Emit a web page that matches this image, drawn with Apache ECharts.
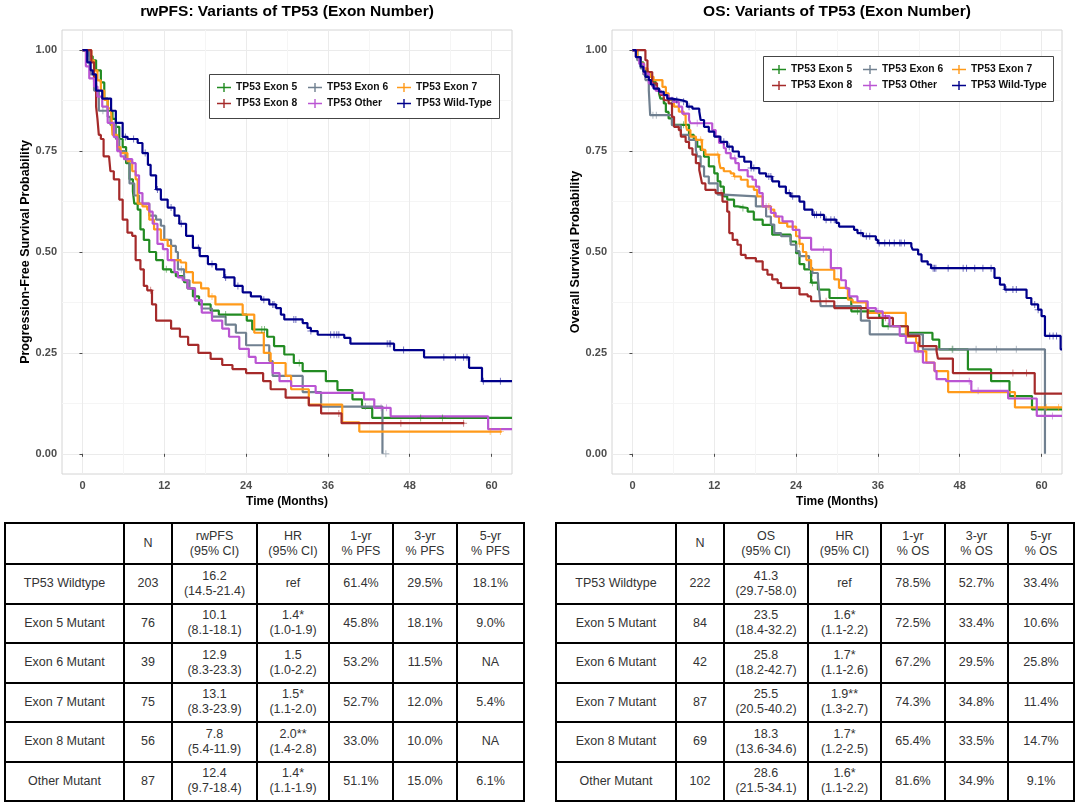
<!DOCTYPE html>
<html><head><meta charset="utf-8">
<script src="https://cdn.jsdelivr.net/npm/echarts@6/dist/echarts.min.js"></script>
<style>
body{margin:0;background:#fff;width:1080px;height:804px;overflow:hidden;}
#chart{position:absolute;left:0;top:0;width:1080px;height:520px;}
table.km{position:absolute;border-collapse:collapse;table-layout:fixed;font-family:"Liberation Sans",Arial,sans-serif;font-size:12.5px;color:#333;}
table.km td{border:2px solid #000;text-align:center;vertical-align:middle;line-height:15px;padding:0;}
</style></head>
<body>
<div id="chart"></div>
<table class="km" id="tPFS" style="left:4px;top:522px;width:519px;"></table>
<table class="km" id="tOS" style="left:555px;top:522px;width:518px;"></table>
<script>
// ---------- curve data: [time (months), survival probability] ----------
const pfsExon5 = [[0,1],[1,0.985],[1.5,0.975],[2,0.95],[2.7,0.92],[3.2,0.88],[3.7,0.85],[4.4,0.83],[4.9,0.81],[5.4,0.78],[5.9,0.76],[6.4,0.72],[6.9,0.68],[7.4,0.65],[7.6,0.62],[8.1,0.605],[8.5,0.556],[9,0.53],[9.8,0.5],[10.8,0.48],[11.8,0.457],[13,0.45],[13.7,0.44],[14.9,0.425],[15.4,0.41],[16.2,0.39],[17.1,0.37],[18.8,0.355],[20,0.345],[24.1,0.33],[24.9,0.308],[27.1,0.29],[28.1,0.267],[29.6,0.246],[31,0.225],[32.3,0.205],[35.7,0.18],[37.4,0.158],[39.6,0.135],[41,0.114],[42.5,0.089],[63,0.089]];
const pfsExon6 = [[0,1],[1,0.975],[1.2,0.94],[1.7,0.9],[2.4,0.85],[3.7,0.835],[4.1,0.815],[4.9,0.78],[5.4,0.75],[6.3,0.73],[6.9,0.67],[7.6,0.64],[8.3,0.62],[9.8,0.59],[10.8,0.58],[11.5,0.565],[12,0.53],[13,0.515],[13.7,0.5],[14,0.457],[14.9,0.43],[15.7,0.41],[16.5,0.38],[17.5,0.36],[19,0.34],[21,0.32],[22.5,0.3],[24,0.269],[27.4,0.23],[27.9,0.193],[32.3,0.153],[35,0.117],[44,0]];
const pfsExon7 = [[0,1],[1.3,0.975],[1.7,0.95],[2.2,0.925],[2.7,0.9],[3.2,0.877],[3.7,0.856],[4.2,0.848],[4.4,0.79],[5.1,0.76],[5.6,0.745],[6.6,0.725],[7.3,0.7],[7.8,0.68],[8.1,0.62],[8.8,0.613],[9.5,0.605],[9.8,0.58],[10.5,0.556],[11.5,0.53],[12.5,0.515],[13,0.48],[14.4,0.474],[15.2,0.45],[16.2,0.424],[17.4,0.41],[18.5,0.39],[19.5,0.37],[23.5,0.345],[25.2,0.3],[26.6,0.25],[27.6,0.225],[29.8,0.193],[30.6,0.16],[33.2,0.122],[38.1,0.078],[40.6,0.055],[61.5,0.055]];
const pfsExon8 = [[0,1],[1.3,0.97],[1.7,0.92],[2,0.86],[2.2,0.83],[2.4,0.79],[2.7,0.78],[3.1,0.737],[3.9,0.733],[4.1,0.7],[4.6,0.68],[5.4,0.63],[5.9,0.58],[6.6,0.548],[7.3,0.54],[7.8,0.48],[8.5,0.457],[9,0.416],[9.5,0.405],[10.2,0.37],[10.8,0.33],[13,0.31],[14.3,0.29],[15.5,0.27],[17,0.25],[18.8,0.235],[20.5,0.22],[22,0.21],[24,0.2],[26.5,0.18],[27.6,0.16],[29.8,0.139],[33.2,0.12],[35,0.1],[38,0.076],[56,0.076]];
const pfsOther = [[0,1],[0.5,0.96],[1,0.93],[1.7,0.91],[2.2,0.885],[2.9,0.86],[3.7,0.82],[4.6,0.785],[5.1,0.75],[5.6,0.737],[6.1,0.73],[7.3,0.72],[7.8,0.69],[8.3,0.646],[8.8,0.62],[9.8,0.6],[10.3,0.57],[11,0.52],[11.8,0.507],[12.5,0.48],[13.5,0.45],[14,0.437],[14.7,0.43],[15.4,0.41],[16.5,0.38],[17.5,0.35],[19,0.33],[20.5,0.31],[21.5,0.29],[23,0.26],[24.4,0.24],[25.4,0.225],[27.9,0.2],[28.9,0.18],[30.6,0.168],[34.2,0.151],[41.3,0.135],[42.8,0.114],[45.2,0.093],[59.5,0.061],[63,0.061]];
const pfsWildType = [[0,1],[0.7,0.97],[1.2,0.95],[1.5,0.94],[2,0.9],[2.9,0.88],[4.2,0.85],[4.9,0.82],[5.9,0.785],[6.6,0.78],[8.1,0.77],[8.8,0.745],[9.6,0.716],[10,0.69],[10.8,0.655],[11.5,0.63],[12.5,0.61],[13.5,0.59],[14.2,0.57],[15.2,0.54],[16.2,0.51],[17.2,0.49],[18.4,0.47],[19.6,0.457],[20.8,0.437],[22.3,0.416],[23.5,0.4],[24.7,0.39],[26.2,0.382],[27.4,0.37],[28.4,0.361],[29.1,0.345],[29.6,0.333],[32.3,0.324],[33,0.312],[33.5,0.304],[34.5,0.295],[38.4,0.287],[39.3,0.273],[45.7,0.257],[50.1,0.239],[56.7,0.213],[58.6,0.18],[63,0.18]];

const osExon5 = [[0,1],[0.7,0.983],[1.2,0.97],[1.6,0.95],[2.2,0.934],[2.9,0.922],[3.4,0.905],[3.9,0.893],[4.1,0.88],[4.6,0.868],[4.9,0.847],[5.3,0.831],[5.8,0.815],[8.3,0.79],[9,0.778],[9.5,0.761],[10,0.753],[10.5,0.736],[11.2,0.712],[12,0.695],[12.5,0.675],[12.9,0.662],[13.4,0.638],[13.9,0.63],[14.9,0.613],[15.4,0.609],[16.9,0.6],[17.8,0.58],[19.1,0.567],[20.5,0.543],[23.2,0.526],[24,0.497],[24.5,0.47],[25.2,0.457],[26.2,0.424],[27.2,0.407],[28.9,0.386],[32.1,0.353],[36.2,0.337],[36.7,0.316],[40.4,0.3],[44,0.283],[45,0.259],[49.2,0.209],[52.6,0.18],[55.3,0.143],[58.6,0.11],[63,0.11]];
const osExon6 = [[0,1],[0.7,0.975],[1.2,0.955],[1.6,0.94],[1.9,0.926],[2.4,0.9],[2.6,0.839],[5.8,0.814],[7.1,0.79],[8.3,0.778],[9.3,0.753],[9.5,0.737],[10,0.712],[10.5,0.687],[11.2,0.67],[12.5,0.642],[13.4,0.638],[18.1,0.613],[19.6,0.588],[20.3,0.568],[20.8,0.547],[21.8,0.539],[23.2,0.518],[24,0.502],[24.5,0.49],[25.9,0.46],[26.4,0.448],[27.2,0.436],[27.4,0.4],[27.6,0.366],[33.5,0.33],[34.8,0.296],[42.6,0.259],[60.5,0]];
const osExon7 = [[0,1],[0.7,0.983],[1.2,0.967],[1.7,0.955],[2.2,0.942],[2.6,0.934],[3.1,0.926],[4.4,0.909],[4.9,0.893],[5.3,0.876],[6.1,0.86],[6.8,0.848],[7.5,0.84],[7.8,0.819],[8,0.802],[8.5,0.786],[9.3,0.778],[10.2,0.753],[10.7,0.741],[12.7,0.724],[12.9,0.708],[13.4,0.7],[14.4,0.695],[14.9,0.687],[15.9,0.679],[16.9,0.662],[17.8,0.654],[18.3,0.638],[19.1,0.613],[20.3,0.605],[20.8,0.588],[21.5,0.572],[22.7,0.563],[24,0.539],[24.5,0.52],[25,0.5],[25.5,0.48],[26.2,0.456],[29.6,0.432],[30.3,0.411],[31.6,0.382],[32.3,0.375],[34.3,0.362],[34.6,0.349],[40.1,0.29],[41.6,0.275],[41.9,0.254],[43.1,0.226],[44.3,0.205],[46.3,0.153],[56.1,0.115],[63,0.115]];
const osExon8 = [[0,1],[1.9,0.975],[2.2,0.946],[2.9,0.918],[3.6,0.9],[4.1,0.889],[4.6,0.876],[5.3,0.868],[5.8,0.835],[6.1,0.81],[6.8,0.802],[7.1,0.786],[7.8,0.773],[8.3,0.757],[8.8,0.741],[9.3,0.72],[9.8,0.703],[10,0.687],[10.2,0.67],[10.7,0.654],[12.2,0.646],[13.2,0.625],[13.9,0.6],[14.2,0.547],[14.7,0.53],[15.4,0.518],[15.9,0.493],[16.6,0.485],[18.1,0.477],[19.1,0.456],[19.8,0.444],[20.5,0.432],[21.3,0.423],[21.8,0.411],[24.5,0.395],[25.7,0.39],[26.2,0.378],[29.6,0.361],[34.5,0.337],[38.2,0.316],[40.4,0.292],[42.1,0.267],[44.6,0.254],[44.8,0.236],[47,0.2],[59,0.149],[63,0.149]];
const osOther = [[0,1],[0.5,0.983],[1,0.966],[1.7,0.942],[2.4,0.918],[2.9,0.91],[3.4,0.9],[4.1,0.893],[4.6,0.888],[5.3,0.88],[6,0.872],[6.8,0.86],[7.3,0.843],[8.3,0.827],[8.5,0.819],[11.7,0.802],[12.2,0.786],[12.7,0.77],[13.4,0.757],[13.7,0.745],[14.4,0.732],[15.1,0.72],[15.6,0.703],[16.9,0.687],[17.6,0.679],[18.1,0.662],[18.6,0.646],[19.1,0.613],[20.3,0.597],[21,0.588],[22,0.576],[23.5,0.555],[24.5,0.535],[26.2,0.506],[29.1,0.46],[30.6,0.43],[31.3,0.41],[31.8,0.39],[33,0.378],[34.5,0.361],[35.7,0.353],[36.7,0.341],[37.7,0.316],[39.2,0.292],[40.1,0.275],[41.4,0.254],[42.6,0.226],[44.3,0.205],[44.6,0.185],[46,0.18],[49.7,0.156],[55.1,0.137],[59.3,0.094],[63,0.094]];
const osWildType = [[0,1],[0.5,0.983],[1.2,0.959],[1.6,0.947],[1.9,0.934],[2.4,0.926],[2.7,0.915],[3.1,0.905],[3.9,0.897],[4.6,0.889],[5.1,0.88],[5.8,0.876],[7.3,0.872],[8,0.86],[8.8,0.855],[9.8,0.848],[10,0.827],[10.5,0.81],[11.2,0.798],[12,0.786],[12.9,0.773],[13.9,0.761],[14.7,0.749],[15.6,0.736],[16.4,0.724],[17.4,0.708],[18.6,0.695],[19.6,0.687],[20.5,0.675],[21.5,0.662],[22.5,0.646],[23.2,0.638],[24.5,0.625],[25.2,0.605],[26.4,0.592],[28.1,0.58],[29.9,0.572],[30.3,0.563],[32.5,0.555],[33,0.547],[33.8,0.539],[35.7,0.53],[36,0.522],[40.9,0.514],[41.1,0.506],[41.9,0.494],[42.4,0.477],[43.3,0.469],[43.8,0.46],[53.1,0.436],[53.9,0.419],[54.6,0.407],[57.8,0.386],[58.5,0.37],[59.5,0.357],[60,0.341],[60.5,0.292],[62.8,0.259],[63,0.259]];

// ---------- censoring times (months) ----------
const pfsExon5Cens = [12.3,21,26.3,26.7,31.8,49.6,52.8];
const pfsExon6Cens = [3,14.5,41.5,44.5];
const pfsExon7Cens = [19,59.8,61.3];
const pfsExon8Cens = [10,37.6,46.7,55.9];
const pfsOtherCens = [6.5,43.8,44.6];
const pfsWildTypeCens = [6.3,7.5,9.2,11,13,14.5,17,19,21,22.8,26.6,27.9,28.1,31,31.3,33.5,36.4,36.9,37.3,37.6,44.7,45,45.2,47.1,53,54.7,55.9,56.4,58.8,61.3];
const osExon5Cens = [7.5,16.2,26.4,33,37.5,46.9];
const osExon6Cens = [3,3.5,26.4,47,50.4,53.4,56.3];
const osExon7Cens = [10,12.5,15,20,24.5,60.7,62.5];
const osExon8Cens = [13,28.4,37.1,55.8,57.8];
const osOtherCens = [9.5,15,19.6,28,36,49.4,50.7,61.6];
const osWildTypeCens = [5.8,6.5,7.5,8.3,13.4,14.2,17.4,17.8,20,20.3,23,23.5,26.7,27,27.6,28.4,29.1,29.6,33.5,34.3,34.8,36.2,37,37.7,38.4,39.2,39.4,39.9,44.1,44.3,44.5,46.3,48.5,49,50.2,51.4,52.6,54.8,55.8,56.3,59,59.5,61.2,61.7,62.2];

// ---------- axis ticks ----------
const timeTicks = [0,12,24,36,48,60];
const timeMinorTicks = [6,18,30,42,54];
const probTicks = [0,0.25,0.5,0.75,1];
const probMinorTicks = [0.125,0.375,0.625,0.875];

// ---------- legend / group names ----------
const groupNames = ['TP53 Exon 5','TP53 Exon 6','TP53 Exon 7','TP53 Exon 8','TP53 Other','TP53 Wild-Type'];

// ---------- table data ----------
const rowLabels = ['TP53 Wildtype','Exon 5 Mutant','Exon 6 Mutant','Exon 7 Mutant','Exon 8 Mutant','Other Mutant'];
const pfsHeaders = ['','N','rwPFS<br>(95% CI)','HR<br>(95% CI)','1-yr<br>% PFS','3-yr<br>% PFS','5-yr<br>% PFS'];
const pfsN = ['203','76','39','75','56','87'];
const pfsMedian = ['16.2','10.1','12.9','13.1','7.8','12.4'];
const pfsMedianCI = ['(14.5-21.4)','(8.1-18.1)','(8.3-23.3)','(8.3-23.9)','(5.4-11.9)','(9.7-18.4)'];
const pfsHR = ['ref','1.4*','1.5','1.5*','2.0**','1.4*'];
const pfsHRCI = ['','(1.0-1.9)','(1.0-2.2)','(1.1-2.0)','(1.4-2.8)','(1.1-1.9)'];
const pfs1yr = ['61.4%','45.8%','53.2%','52.7%','33.0%','51.1%'];
const pfs3yr = ['29.5%','18.1%','11.5%','12.0%','10.0%','15.0%'];
const pfs5yr = ['18.1%','9.0%','NA','5.4%','NA','6.1%'];
const osHeaders = ['','N','OS<br>(95% CI)','HR<br>(95% CI)','1-yr<br>% OS','3-yr<br>% OS','5-yr<br>% OS'];
const osN = ['222','84','42','87','69','102'];
const osMedian = ['41.3','23.5','25.8','25.5','18.3','28.6'];
const osMedianCI = ['(29.7-58.0)','(18.4-32.2)','(18.2-42.7)','(20.5-40.2)','(13.6-34.6)','(21.5-34.1)'];
const osHR = ['ref','1.6*','1.7*','1.9**','1.7*','1.6*'];
const osHRCI = ['','(1.1-2.2)','(1.1-2.6)','(1.3-2.7)','(1.2-2.5)','(1.1-2.2)'];
const os1yr = ['78.5%','72.5%','67.2%','74.3%','65.4%','81.6%'];
const os3yr = ['52.7%','33.4%','29.5%','34.8%','33.5%','34.9%'];
const os5yr = ['33.4%','10.6%','25.8%','11.4%','14.7%','9.1%'];

// ================= rendering =================
const FONT = '"Liberation Sans", Arial, Helvetica, sans-serif';
const colors = ['#228B22','#708090','#FF9A1A','#A52A2A','#BA55D3','#00008B'];
const plusPath = 'path://M4.3,0 L5.7,0 L5.7,10 L4.3,10 Z M0,4.3 L10,4.3 L10,5.7 L0,5.7 Z';
const legendPath = 'path://M0,4.3 L14,4.3 L14,5.7 L0,5.7 Z M6.3,0.5 L7.7,0.5 L7.7,9.5 L6.3,9.5 Z';

function survAt(curve, t){
  let s = curve[0][1];
  for (const p of curve){ if (p[0] <= t) s = p[1]; else break; }
  return s;
}

const pfsCurves = [pfsExon5,pfsExon6,pfsExon7,pfsExon8,pfsOther,pfsWildType];
const pfsCens = [pfsExon5Cens,pfsExon6Cens,pfsExon7Cens,pfsExon8Cens,pfsOtherCens,pfsWildTypeCens];
const osCurves = [osExon5,osExon6,osExon7,osExon8,osOther,osWildType];
const osCens = [osExon5Cens,osExon6Cens,osExon7Cens,osExon8Cens,osOtherCens,osWildTypeCens];

const grids = [
  {left:62, top:30, width:450, height:444, show:true, borderColor:'#D4D4D4', borderWidth:1, backgroundColor:'#fff'},
  {left:612, top:30, width:450, height:444, show:true, borderColor:'#D4D4D4', borderWidth:1, backgroundColor:'#fff'}
];

const labelStyle = {color:'#4D4D4D', fontSize:11, fontWeight:'bold', fontFamily:FONT};
const nameStyle = {color:'#000', fontSize:12, fontWeight:'bold', fontFamily:FONT};

function xMajor(g){
  return {type:'value', gridIndex:g, min:-3, max:63, position:'bottom',
    axisLine:{show:false},
    axisTick:{show:true, length:3, lineStyle:{color:'#4D4D4D'}, customValues:timeTicks},
    axisLabel:{...labelStyle, margin:6, customValues:timeTicks},
    splitLine:{show:true, lineStyle:{color:'#EBEBEB', width:1}},
    name:'Time (Months)', nameLocation:'middle', nameGap:19, nameTextStyle:nameStyle};
}
function xMinor(g){
  return {type:'value', gridIndex:g, min:-3, max:63, position:'top',
    axisLine:{show:false}, axisLabel:{show:false},
    axisTick:{show:false, customValues:timeMinorTicks},
    splitLine:{show:true, lineStyle:{color:'#F5F5F5', width:1}}};
}
function yMajor(g, name, gap){
  return {type:'value', gridIndex:g, min:-0.05, max:1.05, position:'left',
    axisLine:{show:false},
    axisTick:{show:true, length:3, lineStyle:{color:'#4D4D4D'}, customValues:probTicks},
    axisLabel:{...labelStyle, margin:5, customValues:probTicks, formatter:v => Number(v).toFixed(2)},
    splitLine:{show:true, lineStyle:{color:'#EBEBEB', width:1}},
    name:name, nameLocation:'middle', nameGap:gap, nameRotate:90,
    nameTextStyle:{...nameStyle, fontSize:12.5}};
}
function yMinor(g){
  return {type:'value', gridIndex:g, min:-0.05, max:1.05, position:'right',
    axisLine:{show:false}, axisLabel:{show:false},
    axisTick:{show:false, customValues:probMinorTicks},
    splitLine:{show:true, lineStyle:{color:'#F5F5F5', width:1}}};
}

const series = [];
function addPlot(curves, cens, axisIdx){
  curves.forEach((c, i) => {
    series.push({type:'line', name:groupNames[i], xAxisIndex:axisIdx, yAxisIndex:axisIdx,
      step:'end', data:c, showSymbol:false, symbol:'none', color:colors[i],
      lineStyle:{width:2.2, color:colors[i]}, z:2});
  });
  cens.forEach((ts, i) => {
    series.push({type:'scatter', name:'cens-' + axisIdx + '-' + i, xAxisIndex:axisIdx, yAxisIndex:axisIdx,
      data: ts.map(t => [t, survAt(curves[i], t)]), symbol:plusPath, symbolSize:7, silent:true,
      itemStyle:{color:colors[i], opacity:0.55}, z:3});
  });
}
addPlot(pfsCurves, pfsCens, 0);
addPlot(osCurves, osCens, 2);

// x axes: 0 major grid0, 1 minor grid0, 2 major grid1, 3 minor grid1 (same for y)
const xAxes = [xMajor(0), xMinor(0), xMajor(1), xMinor(1)];
const yAxes = [yMajor(0,'Progression-Free Survival Probability',30), yMinor(0), yMajor(1,'Overall Survival Probability',29), yMinor(1)];

const legendCols = [[0,3],[1,4],[2,5]];
function legends(lefts, top){
  return legendCols.map((col, k) => ({
    data: col.map(i => groupNames[i]), orient:'vertical', left:lefts[k], top:top,
    itemWidth:14, itemHeight:10, itemGap:6, padding:0, icon:legendPath, selectedMode:false,
    textStyle:{fontSize:10.3, fontWeight:'bold', color:'#111', fontFamily:FONT}
  }));
}

const option = {
  animation:false,
  backgroundColor:'#fff',
  title:[
    {text:'rwPFS: Variants of TP53 (Exon Number)', left:287, top:4, textAlign:'center', padding:0,
     textStyle:{fontSize:15.5, fontWeight:'bold', color:'#000', fontFamily:FONT}},
    {text:'OS: Variants of TP53 (Exon Number)', left:837, top:4, textAlign:'center', padding:0,
     textStyle:{fontSize:15.5, fontWeight:'bold', color:'#000', fontFamily:FONT}}
  ],
  grid:grids,
  xAxis:xAxes,
  yAxis:yAxes,
  legend:[...legends([217,308,397],82.5), ...legends([772,863,952],64.5)],
  graphic:[
    {type:'rect', left:209, top:74, z:3, shape:{width:290, height:44}, style:{fill:'#fff', stroke:'#444', lineWidth:1}},
    {type:'rect', left:763, top:56, z:3, shape:{width:290, height:45}, style:{fill:'#fff', stroke:'#444', lineWidth:1}}
  ],
  series:series
};

const chart = echarts.init(document.getElementById('chart'), null, {renderer:'canvas'});
chart.setOption(option);

// ---------- tables ----------
function buildTable(id, headers, widths, cols){
  const t = document.getElementById(id);
  let html = '<colgroup>' + widths.map(w => '<col style="width:' + w + 'px">').join('') + '</colgroup>';
  html += '<tr style="height:41px">' + headers.map(h => '<td>' + h + '</td>').join('') + '</tr>';
  rowLabels.forEach((lab, r) => {
    const med = cols.median[r] + '<br>' + cols.medianCI[r];
    const hr = cols.hr[r] + (cols.hrCI[r] ? '<br>' + cols.hrCI[r] : '');
    html += '<tr style="height:39.5px"><td>' + lab + '</td><td>' + cols.n[r] + '</td><td>' + med + '</td><td>' + hr +
      '</td><td>' + cols.y1[r] + '</td><td>' + cols.y3[r] + '</td><td>' + cols.y5[r] + '</td></tr>';
  });
  t.innerHTML = html;
}
buildTable('tPFS', pfsHeaders, [119,48,85,72,64,64,67],
  {n:pfsN, median:pfsMedian, medianCI:pfsMedianCI, hr:pfsHR, hrCI:pfsHRCI, y1:pfs1yr, y3:pfs3yr, y5:pfs5yr});
buildTable('tOS', osHeaders, [120,48,84,73,64,63,66],
  {n:osN, median:osMedian, medianCI:osMedianCI, hr:osHR, hrCI:osHRCI, y1:os1yr, y3:os3yr, y5:os5yr});
</script>
</body></html>
